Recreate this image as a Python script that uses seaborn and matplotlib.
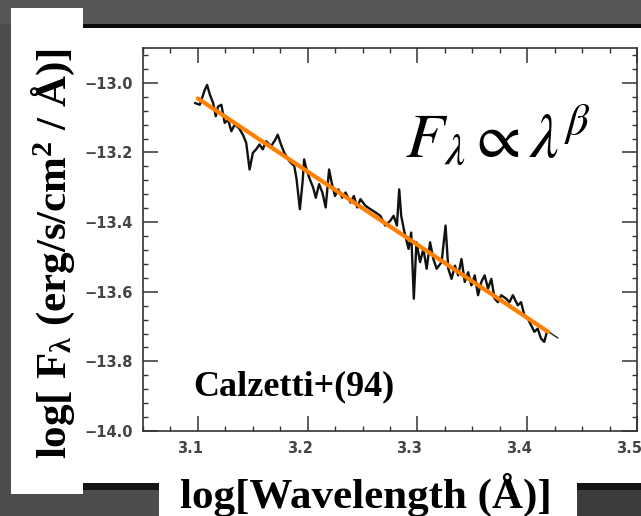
import matplotlib
matplotlib.use("Agg")
import matplotlib.pyplot as plt
from matplotlib.patches import Rectangle
from matplotlib.ticker import MultipleLocator, FixedLocator
from matplotlib.transforms import ScaledTranslation
import seaborn as sns
import pandas as pd

# ---- data ----
wave = [3.0973, 3.1018, 3.1063, 3.1084, 3.1109, 3.1139, 3.1163, 3.1184, 3.1214, 3.1244,
        3.1275, 3.1305, 3.1335, 3.1374, 3.1410, 3.1440, 3.1471, 3.1501, 3.1531, 3.1561,
        3.1591, 3.1621, 3.1667, 3.1706, 3.1727, 3.1757, 3.1787, 3.1833, 3.1878, 3.1899,
        3.1929, 3.1953, 3.1968, 3.1989, 3.2020, 3.2050, 3.2074, 3.2104, 3.2134, 3.2164,
        3.2195, 3.2219, 3.2249, 3.2279, 3.2315, 3.2345, 3.2391, 3.2421, 3.2451, 3.2481,
        3.2526, 3.2572, 3.2617, 3.2662, 3.2707, 3.2753, 3.2783, 3.2813, 3.2834, 3.2852,
        3.2882, 3.2919, 3.2943, 3.2967, 3.2991, 3.3024, 3.3054, 3.3084, 3.3115, 3.3145,
        3.3175, 3.3220, 3.3256, 3.3281, 3.3311, 3.3341, 3.3371, 3.3401, 3.3431, 3.3462,
        3.3492, 3.3522, 3.3552, 3.3582, 3.3612, 3.3643, 3.3673, 3.3703, 3.3733, 3.3763,
        3.3808, 3.3839, 3.3869, 3.3914, 3.3944, 3.3974, 3.4005, 3.4035, 3.4065, 3.4095,
        3.4125, 3.4155, 3.4180]
flux = [-13.058, -13.063, -13.020, -13.006, -13.034, -13.058, -13.096, -13.068, -13.063, -13.115,
        -13.106, -13.139, -13.120, -13.130, -13.149, -13.172, -13.249, -13.201, -13.191, -13.177,
        -13.191, -13.168, -13.182, -13.163, -13.149, -13.177, -13.201, -13.225, -13.239, -13.277,
        -13.363, -13.287, -13.220, -13.249, -13.277, -13.301, -13.330, -13.291, -13.315, -13.358,
        -13.249, -13.287, -13.325, -13.306, -13.330, -13.315, -13.344, -13.325, -13.358, -13.334,
        -13.353, -13.363, -13.372, -13.382, -13.410, -13.396, -13.382, -13.410, -13.306, -13.382,
        -13.430, -13.477, -13.430, -13.620, -13.458, -13.515, -13.477, -13.534, -13.458, -13.506,
        -13.534, -13.515, -13.410, -13.534, -13.563, -13.525, -13.553, -13.506, -13.572, -13.544,
        -13.582, -13.553, -13.610, -13.572, -13.553, -13.591, -13.563, -13.620, -13.630, -13.610,
        -13.620, -13.630, -13.610, -13.639, -13.630, -13.668, -13.677, -13.696, -13.715, -13.706,
        -13.734, -13.744, -13.715]

fit_black_x = [3.100, 3.428]
fit_black_y = [-13.045, -13.733]
fit_orange_x = [3.100, 3.419]
fit_orange_y = [-13.045, -13.715]

x_major = [3.1, 3.2, 3.3, 3.4, 3.5]
y_major = [-14.0, -13.8, -13.6, -13.4, -13.2, -13.0]

ylabel_text = r"log[ F$_\mathbf{\lambda}$ (erg/s/cm$^\mathbf{2}$ / Å)]"
xlabel_text = "log[Wavelength (Å)]"
formula_text = r"$F_\lambda \propto \lambda^\beta$"
ref_text = "Calzetti+(94)"

# ---- style ----
sns.set_style("ticks")
plt.rcParams["mathtext.rm"] = "Liberation Serif:bold"
plt.rcParams["mathtext.bf"] = "Liberation Serif:bold"
plt.rcParams["mathtext.it"] = "Liberation Serif:italic:bold"

W, H = 641, 516
fig = plt.figure(figsize=(W / 100, H / 100), dpi=100)
fig.patch.set_facecolor("#4d4d4d")


def rect(x0, y0, x1, y1, color):
    fig.patches.append(Rectangle((x0 / W, 1 - y1 / H), (x1 - x0) / W, (y1 - y0) / H,
                                 transform=fig.transFigure, facecolor=color,
                                 edgecolor="none", zorder=-10))


rect(0, 0, W, 24, "#565656")
rect(83, 24, W, 29, "#0a0a0a")
rect(83, 483, W, 490, "#141414")
rect(577, 490, W, H, "#3c3c3c")
rect(83, 28, W, 483, "white")
rect(11, 8, 83, 494, "white")
rect(159, 483, 577, H, "white")

ax = fig.add_axes([143 / W, 1 - 431 / H, (637 - 143) / W, (431 - 48) / H])
ax.set_facecolor("white")

spec = pd.DataFrame({"wave": wave, "flux": flux})
sns.lineplot(data=spec, x="wave", y="flux", ax=ax, color="#111111", lw=1.7,
             estimator=None, sort=False, zorder=3)
sns.lineplot(x=fit_black_x, y=fit_black_y, ax=ax, color="#222222", lw=1.0, zorder=2)
sns.lineplot(x=fit_orange_x, y=fit_orange_y, ax=ax, color="#ff7f00", lw=3.0, zorder=4)

ax.set_xlim(3.05, 3.5)
ax.set_ylim(-14.0, -12.9)
ax.xaxis.set_major_locator(FixedLocator(x_major))
ax.yaxis.set_major_locator(FixedLocator(y_major))
ax.xaxis.set_minor_locator(MultipleLocator(0.025))
ax.yaxis.set_minor_locator(MultipleLocator(0.04))
ax.set_xticklabels([f"{v:.1f}" for v in x_major], fontsize=10.5, fontweight="bold",
                   family="DejaVu Sans")
ax.set_yticklabels([f"\u2212{abs(v):.1f}" for v in y_major], fontsize=10.5,
                   fontweight="bold", family="DejaVu Sans")
ax.set_xlabel("")
ax.set_ylabel("")

for s in ax.spines.values():
    s.set_color("#333333")
    s.set_linewidth(1.2)
ax.tick_params(which="both", direction="in", top=True, right=True, color="#333333",
               labelcolor="#444444")
ax.tick_params(which="major", length=11, width=1.1, pad=7)
ax.tick_params(which="minor", length=3.6, width=1.0)
for lab in ax.get_xticklabels():
    lab.set_transform(lab.get_transform() + ScaledTranslation(-0.08, 0, fig.dpi_scale_trans))

fig.text(53 / W, 1 - 254 / H, ylabel_text, rotation=90, ha="center", va="center",
         fontsize=31, fontweight="bold", family="Liberation Serif", color="black",
         math_fontfamily="custom")
fig.text(366 / W, 1 - 508 / H, xlabel_text, ha="center", va="baseline",
         fontsize=31, fontweight="bold", family="Liberation Serif", color="black")
fig.text(405 / W, 1 - 157 / H, formula_text, ha="left", va="baseline",
         fontsize=46, color="black", math_fontfamily="stix")
fig.text(193 / W, 1 - 395 / H, ref_text, ha="left", va="baseline",
         fontsize=26, fontweight="bold", family="Liberation Serif", color="black")

fig.savefig("out.png", dpi=100, facecolor=fig.get_facecolor())
